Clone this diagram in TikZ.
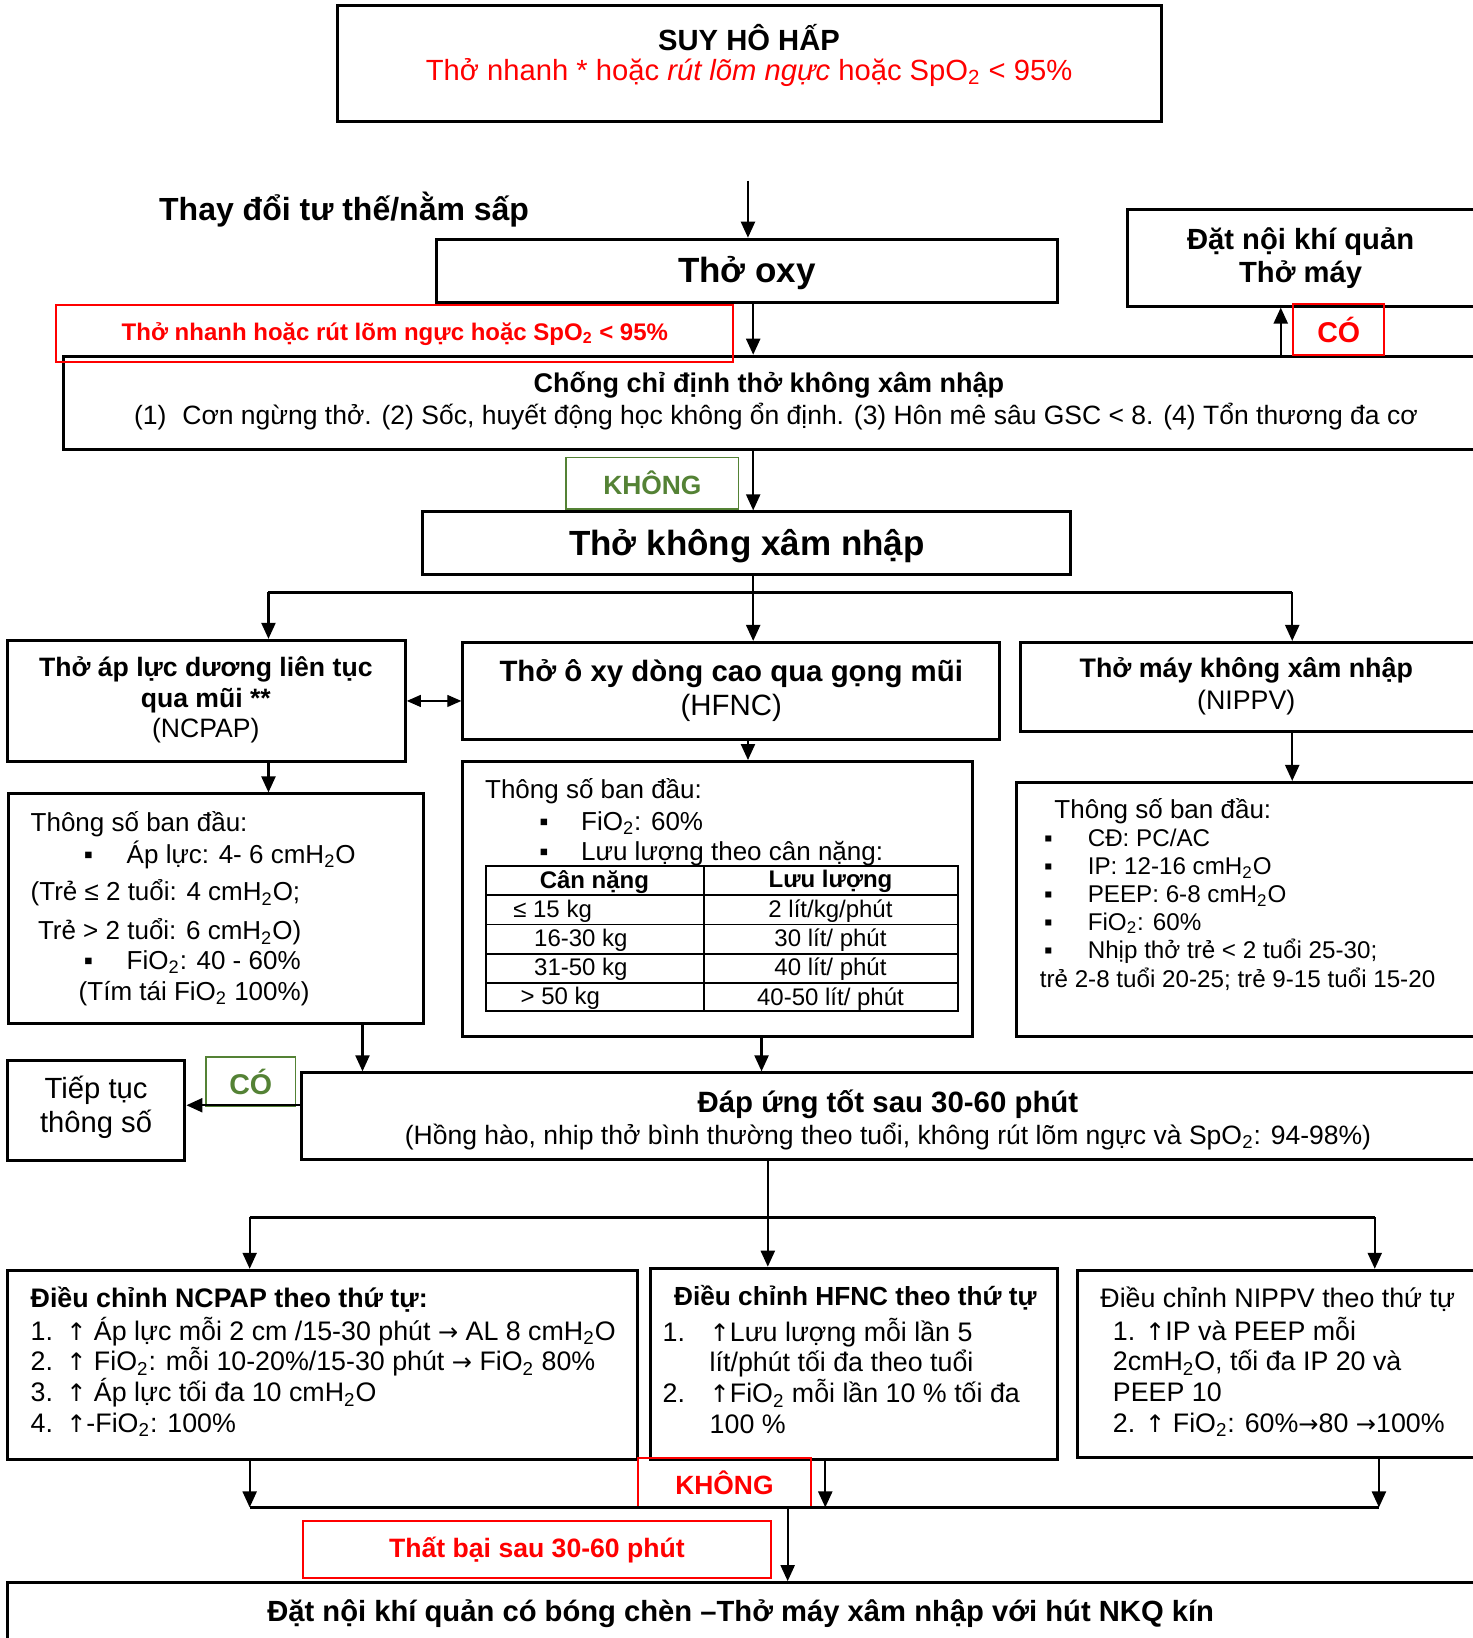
\documentclass[tikz,border=0pt]{standalone}
\usepackage{fontspec}
\setmainfont{Liberation Sans}
\newfontfamily\arrowfont[Scale=0.9]{DejaVu Sans}
\usetikzlibrary{arrows.meta,fit}
\definecolor{kgreen}{RGB}{84,130,53}
\newcommand{\lowtwo}{\textsubscript{2}}
\newcommand{\upar}{{\arrowfont ↑}}
\newcommand{\rar}{{\arrowfont →}}

\tikzset{
  box/.style={draw, line width=1.5pt, inner sep=0pt},
  redbox/.style={draw=red, line width=1pt, inner sep=0pt},
  greenbox/.style={draw=kgreen, line width=0.8pt, inner sep=0pt},
  arr/.style={line width=1.1pt, -{Triangle[length=8pt,width=7pt]}},
  arrtwo/.style={line width=0.6pt, {Triangle[length=7pt,width=6pt]}-{Triangle[length=7pt,width=6pt]}},
  bar/.style={line width=1.5pt},
  txt/.style={inner sep=0pt, align=left, anchor=west},
  ctr/.style={inner sep=0pt, align=center},
  fn/.style={font=\fontsize{13}{15.5}\selectfont},
  fb/.style={font=\fontsize{13.5}{15.5}\selectfont\bfseries},
  fbig/.style={font=\fontsize{17.5}{20}\selectfont\bfseries},
}

\begin{document}
\begin{tikzpicture}[x=0.5224pt,y=0.5224pt,yscale=-1]
\clip (0,0) rectangle (1410,1568);

%Boxes
\node[box, fit={(323,5) (1112,116)}] (suy) {};
\node[box, fit={(418,229) (1012,290)}] (oxy) {};
\node[box, fit={(1079,201) (1440,293)}] (dnkq) {};
\node[box, fit={(61,341) (1440,430)}] (ccd) {};
\node[box, fit={(404,490) (1025,550)}] (tkxn) {};
\node[box, fit={(7,613) (388,729)}] (ncpap) {};
\node[box, fit={(443,615) (957,708)}] (hfnc) {};
\node[box, fit={(977,615) (1440,700)}] (nippv) {};
\node[box, fit={(8,760) (405,980)}] (pncpap) {};
\node[box, fit={(443,729) (931,992)}] (phfnc) {};
\node[box, fit={(973,749) (1440,992)}] (pnippv) {};
\node[box, fit={(289,1027) (1440,1110)}] (dapung) {};
\node[box, fit={(7,1015) (177,1111)}] (tieptuc) {};
\node[box, fit={(7,1216) (610,1397)}] (dcncpap) {};
\node[box, fit={(623,1214) (1012,1397)}] (dchfnc) {};
\node[box, fit={(1031,1216) (1440,1395)}] (dcnippv) {};
\node[box, fit={(7,1515) (1440,1600)}] (nkq) {};

%Label boxes
\node[redbox, fit={(54,292) (702,347)}] (lbtn) {};
\node[redbox, fit={(1238,291) (1325,340)}] (lbco) {};
\node[greenbox, fit={(542,438) (707,487)}] (lbkhong) {};
\node[greenbox, fit={(197,1012) (283,1059)}] (lbcotwo) {};
\node[redbox, fit={(611,1396) (776,1443)}] (lbkhongtwo) {};
\node[redbox, fit={(290,1456) (738,1511)}] (lbtb) {};

% Text Node
\node[ctr, text=red, font=\fontsize{12}{14}\selectfont\bfseries] (tlbtn) at (lbtn.center) {Thở nhanh hoặc rút lõm ngực hoặc SpO\lowtwo{} < 95\%};
\node[ctr, text=red, font=\fontsize{14.3}{16}\selectfont\bfseries] (tlbco) at (lbco.center) {CÓ};
\node[ctr, text=kgreen, font=\fontsize{13.2}{16}\selectfont\bfseries] (tlbkhong) at (lbkhong.center) {KHÔNG};
\node[ctr, text=kgreen, font=\fontsize{14.3}{16}\selectfont\bfseries] (tlbcotwo) at (lbcotwo.center) {CÓ};
\node[ctr, text=red, font=\fontsize{13.2}{16}\selectfont\bfseries] (tlbkhongtwo) at (lbkhongtwo.center) {KHÔNG};
\node[ctr, text=red, font=\fontsize{13.3}{16}\selectfont\bfseries] (tlbtb) at (lbtb.center) {Thất bại sau 30-60 phút};

% Text Node
\node[ctr, font=\fontsize{14.6}{17}\selectfont\bfseries] (tsuy) at (717,36) {SUY HÔ HẤP};
\node[ctr, font=\fontsize{14.6}{17}\selectfont, text=red] (tsuyb) at (717,69) {Thở nhanh * hoặc \textit{rút lõm ngực} hoặc SpO\lowtwo{} < 95\%};
\node[txt, font=\fontsize{16}{18}\selectfont\bfseries] (tthay) at (152,201) {Thay đổi tư thế/nằm sấp};
\node[ctr, fbig] (toxy) at (715,261) {Thở oxy};
\node[ctr, font=\fontsize{14.6}{16.7}\selectfont\bfseries] (tdnkq) at (1245,247) {Đặt nội khí quản\\Thở máy};
\node[ctr, fb] (tccd) at (736,369) {Chống chỉ định thở không xâm nhập};
\node[txt, font=\fontsize{13.25}{15.5}\selectfont] (tccdb) at (128,399) {(1)\hspace{0.6em}Cơn ngừng thở. (2) Sốc, huyết động học không ổn định. (3) Hôn mê sâu GSC < 8. (4) Tổn thương đa cơ};
\node[ctr, fbig] (ttkxn) at (715,523) {Thở không xâm nhập};

% Text Node
\node[ctr, font=\fontsize{13.3}{15.1}\selectfont] (tncpap) at (197,670) {\bfseries Thở áp lực dương liên tục\\\bfseries qua mũi **\\(NCPAP)};
\node[ctr, font=\fontsize{14.7}{17.2}\selectfont] (thfnc) at (700,661) {\bfseries Thở ô xy dòng cao qua gọng mũi\\(HFNC)};
\node[ctr, font=\fontsize{13.4}{15.7}\selectfont] (tnippv) at (1193,657) {\bfseries Thở máy không xâm nhập\\\mdseries(NIPPV)};

% Text Node
\node[txt, fn] (pa) at (29,789) {Thông số ban đầu:};
\node[txt, fn] (pb) at (80,818) {\makebox[21.4pt][l]{▪}Áp lực: 4- 6 cmH\lowtwo O};
\node[txt, fn] (pc) at (29,855) {(Trẻ ≤ 2 tuổi: 4 cmH\lowtwo O;};
\node[txt, fn] (pd) at (36,892) {Trẻ > 2 tuổi: 6 cmH\lowtwo O)};
\node[txt, fn] (pe) at (80,921) {\makebox[21.4pt][l]{▪}FiO\lowtwo: 40 - 60\%};
\node[txt, fn] (pf) at (75,951) {(Tím tái FiO\lowtwo{} 100\%)};

% Text Node
\node[txt, fn] (ha) at (464,757) {Thông số ban đầu:};
\node[txt, fn] (hb) at (516,788) {\makebox[20.9pt][l]{▪}FiO\lowtwo: 60\%};
\node[txt, fn] (hc) at (516,817) {\makebox[20.9pt][l]{▪}Lưu lượng theo cân nặng:};

%Table
\draw[line width=0.8pt] (465,829) rectangle (917,968);
\foreach \y in {857,885,913,941} \draw[line width=0.8pt] (465,\y) -- (917,\y);
\draw[line width=0.8pt] (674,829) -- (674,968);
\node[ctr, font=\fontsize{12}{14}\selectfont\bfseries] (hcol) at (569,844) {Cân nặng};
\node[ctr, font=\fontsize{12}{14}\selectfont\bfseries] (hcolb) at (795,844) {Lưu lượng};
\foreach \y/\xa/\a/\b [count=\i] in {872/491/{≤ 15 kg}/{2 lít/kg/phút}, 900/511/{16-30 kg}/{30 lít/ phút}, 928/511/{31-50 kg}/{40 lít/ phút}, 956/498/{> 50 kg}/{40-50 lít/ phút}}
  {\node[txt, font=\fontsize{12}{14}\selectfont] (ca\i) at (\xa,\y) {\a};
   \node[ctr, font=\fontsize{12}{14}\selectfont] (cb\i) at (795,\y) {\b};}

% Text Node
\node[txt, fn] (na) at (1009,777) {Thông số ban đầu:};
\node[txt, font=\fontsize{12.1}{13.9}\selectfont] (nb) at (999,858) {\makebox[21.9pt][l]{▪}CĐ: PC/AC\\\makebox[21.9pt][l]{▪}IP: 12-16 cmH\lowtwo O\\\makebox[21.9pt][l]{▪}PEEP: 6-8 cmH\lowtwo O\\\makebox[21.9pt][l]{▪}FiO\lowtwo: 60\%\\\makebox[21.9pt][l]{▪}Nhịp thở trẻ < 2 tuổi 25-30;};
\node[txt, font=\fontsize{12.1}{13.9}\selectfont] (nc) at (995,937) {trẻ 2-8 tuổi 20-25; trẻ 9-15 tuổi 15-20};

% Text Node
\node[ctr, font=\fontsize{14.7}{17}\selectfont\bfseries] (tdap) at (850,1057) {Đáp ứng tốt sau 30-60 phút};
\node[ctr, font=\fontsize{13.27}{15.5}\selectfont] (tdapb) at (850,1088) {(Hồng hào, nhip thở bình thường theo tuổi, không rút lõm ngực và SpO\lowtwo: 94-98\%)};
\node[ctr, font=\fontsize{14.6}{16.7}\selectfont] (ttiep) at (92,1060) {Tiếp tục\\thông số};

% Text Node
\node[txt, font=\fontsize{13.4}{15.4}\selectfont\bfseries] (dna) at (29,1244) {Điều chỉnh NCPAP theo thứ tự:};
\node[txt, font=\fontsize{13.4}{15.4}\selectfont] (dnb) at (29,1318) {\makebox[17.8pt][l]{1.}\upar{} Áp lực mỗi 2 cm /15-30 phút \rar{} AL 8 cmH\lowtwo O\\\makebox[17.8pt][l]{2.}\upar{} FiO\lowtwo: mỗi 10-20\%/15-30 phút \rar{} FiO\lowtwo{} 80\%\\\makebox[17.8pt][l]{3.}\upar{} Áp lực tối đa 10 cmH\lowtwo O\\\makebox[17.8pt][l]{4.}\upar-FiO\lowtwo: 100\%};
\node[txt, font=\fontsize{13.1}{15.4}\selectfont\bfseries] (dha) at (645,1242) {Điều chỉnh HFNC theo thứ tự};
\node[txt, font=\fontsize{13.4}{15.4}\selectfont] (dhb) at (634,1317) {\makebox[23.5pt][l]{1.}\upar Lưu lượng mỗi lần 5\\\hspace*{23.5pt}lít/phút tối đa theo tuổi\\\makebox[23.5pt][l]{2.}\upar FiO\lowtwo{} mỗi lần 10 \% tối đa\\\hspace*{23.5pt}100 \%};
\node[txt, font=\fontsize{13.4}{15.4}\selectfont] (dpa) at (1053,1244) {Điều chỉnh NIPPV theo thứ tự};
\node[txt, font=\fontsize{13.4}{15.4}\selectfont] (dpb) at (1065,1318) {1. \upar IP và PEEP mỗi\\2cmH\lowtwo O, tối đa IP 20 và\\PEEP 10\\2. \upar{} FiO\lowtwo: 60\%\rar80 \rar100\%};
\node[ctr, font=\fontsize{14.6}{17}\selectfont\bfseries] (tnkq) at (709,1545) {Đặt nội khí quản có bóng chèn –Thở máy xâm nhập với hút NKQ kín};

%Connectors
\coordinate (a0) at (716,173);
\draw[arr] (a0) -- (a0 |- oxy.north);
\draw[arr] (721,0 |- oxy.south) -- (721,0 |- ccd.north);
\draw[arr] (1226,0 |- ccd.north) -- (1226,0 |- dnkq.south);
\draw[arr] (721,0 |- ccd.south) -- (721,0 |- tkxn.north);
\coordinate (sal) at (257,567);
\coordinate (sar) at (1237,567);
\draw[arr] (721,0 |- tkxn.south) -- (721,0 |- hfnc.north);
\draw[bar] (sal) -- (sar);
\draw[arr] (sal) -- (sal |- ncpap.north);
\draw[arr] (sar) -- (sar |- nippv.north);
\draw[arrtwo] (ncpap.east) -- (ncpap.east -| hfnc.west);
\draw[arr] (257,0 |- ncpap.south) -- (257,0 |- pncpap.north);
\draw[arr] (716,0 |- hfnc.south) -- (716,0 |- phfnc.north);
\draw[arr] (1237,0 |- nippv.south) -- (1237,0 |- pnippv.north);
\draw[arr] (347,0 |- pncpap.south) -- (347,0 |- dapung.north);
\draw[arr] (729,0 |- phfnc.south) -- (729,0 |- dapung.north);
\draw[arr] (dapung.west |- 0,1058) -- (tieptuc.east |- 0,1058);
\coordinate (sbl) at (239,1165);
\coordinate (sbr) at (1316,1165);
\draw[arr] (735,0 |- dapung.south) -- (735,0 |- dchfnc.north);
\draw[bar] (sbl) -- (sbr);
\draw[arr] (sbl) -- (sbl |- dcncpap.north);
\draw[arr] (sbr) -- (sbr |- dcnippv.north);
\coordinate (scl) at (239,1443);
\coordinate (scr) at (1320,1443);
\draw[arr] (scl |- dcncpap.south) -- (scl);
\draw[arr] (790,0 |- dchfnc.south) -- (790,0 |- scl);
\draw[arr] (scr |- dcnippv.south) -- (scr);
\draw[bar] (scl) -- (scr);
\draw[arr] (754,0 |- scl) -- (754,0 |- nkq.north);

\end{tikzpicture}
\end{document}
